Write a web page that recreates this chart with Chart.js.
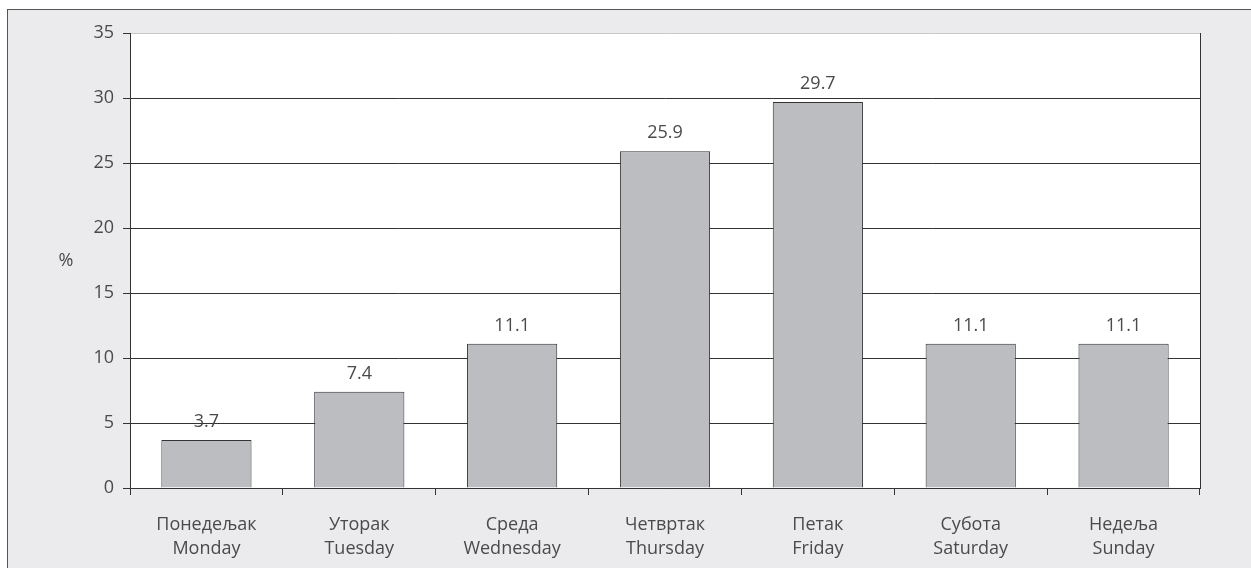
<!DOCTYPE html>
<html>
<head>
<meta charset="utf-8">
<script src="https://cdn.jsdelivr.net/npm/chart.js@4"></script>
<style>
  html, body { margin: 0; padding: 0; background: #ffffff; overflow: hidden; }
  #frame {
    position: absolute; left: 7px; top: 9px; width: 1260px; height: 580px;
    background: #ebebed; border: 1px solid #555;
  }
  #wrap { position: absolute; left: 0; top: 0; width: 1251px; height: 568px; }
</style>
</head>
<body>
<div id="frame"></div>
<div id="wrap"><canvas id="dayChart" width="1251" height="568"></canvas></div>
<script>
const dayNamesLocal = ['Понедељак', 'Уторак', 'Среда', 'Четвртак', 'Петак', 'Субота', 'Недеља'];
const dayNamesEnglish = ['Monday', 'Tuesday', 'Wednesday', 'Thursday', 'Friday', 'Saturday', 'Sunday'];
const percentValues = [3.7, 7.4, 11.1, 25.9, 29.7, 11.1, 11.1];
const yTicks = [0, 5, 10, 15, 20, 25, 30, 35];

const textColor = '#4a4a4a';
const fontFamily = '"Open Sans", "Noto Sans", sans-serif';

// white plot area + right frame line + "%" label
const plotBackground = {
  id: 'plotBackground',
  beforeDraw(chart) {
    const { ctx, chartArea } = chart;
    ctx.save();
    ctx.fillStyle = '#ffffff';
    ctx.fillRect(chartArea.left, chartArea.top, chartArea.right - chartArea.left, chartArea.bottom - chartArea.top);
    ctx.restore();
  },
  afterDraw(chart) {
    const { ctx, chartArea } = chart;
    ctx.save();
    ctx.strokeStyle = '#333333';
    ctx.lineWidth = 1;
    ctx.beginPath();
    ctx.moveTo(chartArea.right + 0.5, chartArea.top);
    ctx.lineTo(chartArea.right + 0.5, chartArea.bottom);
    ctx.stroke();
    ctx.fillStyle = textColor;
    ctx.font = '18px ' + fontFamily;
    ctx.textAlign = 'center';
    ctx.textBaseline = 'middle';
    ctx.fillText('%', 66, (chartArea.top + chartArea.bottom) / 2);
    ctx.restore();
  }
};

// value labels above bars
const valueLabels = {
  id: 'valueLabels',
  afterDatasetsDraw(chart) {
    const { ctx } = chart;
    const meta = chart.getDatasetMeta(0);
    ctx.save();
    ctx.fillStyle = textColor;
    ctx.font = '18px ' + fontFamily;
    ctx.textAlign = 'center';
    ctx.textBaseline = 'alphabetic';
    meta.data.forEach((bar, i) => {
      ctx.fillText(percentValues[i].toFixed(1), bar.x, bar.y - 13);
    });
    ctx.restore();
  }
};

const ctx = document.getElementById('dayChart').getContext('2d');
new Chart(ctx, {
  type: 'bar',
  data: {
    labels: dayNamesLocal.map((d, i) => [d, dayNamesEnglish[i]]),
    datasets: [{
      data: percentValues,
      backgroundColor: '#bcbdc1',
      borderColor: '#333333',
      borderWidth: 1,
      categoryPercentage: 1,
      barPercentage: 0.59,
    }],
  },
  options: {
    responsive: false,
    animation: false,
    devicePixelRatio: 1,
    layout: { padding: { left: 0, right: 51, top: 33, bottom: 0 } },
    plugins: {
      legend: { display: false },
      tooltip: { enabled: false },
    },
    scales: {
      x: {
        offset: true,
        grid: {
          offset: true,
          drawOnChartArea: false,
          color: '#333333',
          tickLength: 7,
        },
        border: { display: true, color: '#333333' },
        ticks: {
          color: textColor,
          font: { family: fontFamily, size: 18, lineHeight: 1.33 },
          padding: 18,
          maxRotation: 0,
        },
        afterFit(scale) { scale.height = 80; },
      },
      y: {
        min: 0,
        max: 35,
        afterBuildTicks(scale) { scale.ticks = yTicks.map((v) => ({ value: v })); },
        grid: {
          color: (c) => (c.tick && c.tick.value === 35 ? '#c8c8c8' : '#333333'),
          tickColor: '#333333',
          tickLength: 7,
        },
        border: { display: true, color: '#333333' },
        ticks: {
          color: textColor,
          font: { family: fontFamily, size: 18 },
          padding: 9,
        },
        afterFit(scale) { scale.width = 130; },
      },
    },
  },
  plugins: [plotBackground, valueLabels],
});
</script>
</body>
</html>
